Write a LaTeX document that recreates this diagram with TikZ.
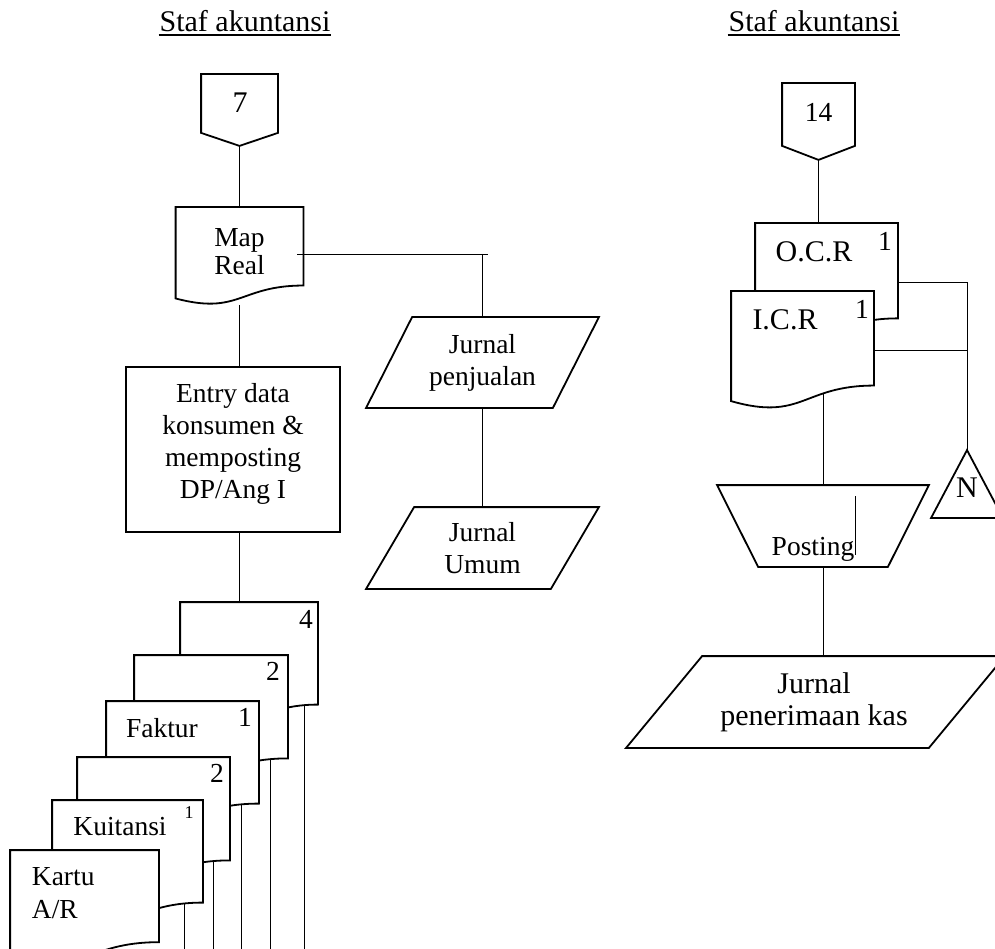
\documentclass[tikz,border=0pt]{standalone}
\usepackage{fontspec}
\setmainfont{Liberation Serif}
\usetikzlibrary{calc}

% Flowchart "document" symbol: flat top, wavy bottom edge
\makeatletter
\newdimen\fdXl \newdimen\fdXr \newdimen\fdXm \newdimen\fdYt
\newdimen\fdYr \newdimen\fdYl \newdimen\fdYc \newdimen\fdH
\pgfdeclareshape{flowdoc}{%
  \inheritsavedanchors[from=rectangle]%
  \inheritanchorborder[from=rectangle]%
  \inheritanchor[from=rectangle]{center}%
  \inheritanchor[from=rectangle]{north}%
  \inheritanchor[from=rectangle]{south}%
  \inheritanchor[from=rectangle]{east}%
  \inheritanchor[from=rectangle]{west}%
  \inheritanchor[from=rectangle]{north east}%
  \inheritanchor[from=rectangle]{north west}%
  \inheritanchor[from=rectangle]{south east}%
  \inheritanchor[from=rectangle]{south west}%
  \inheritanchor[from=rectangle]{text}%
  \inheritanchor[from=rectangle]{base}%
  \inheritanchor[from=rectangle]{mid}%
  \backgroundpath{%
    \southwest \fdXl=\pgf@x \fdYl=\pgf@y
    \northeast \fdXr=\pgf@x \fdYt=\pgf@y
    \fdH=\fdYt \advance\fdH by -\fdYl
    \fdXm=.5\fdXl \advance\fdXm by .5\fdXr
    \fdYr=-0.802\fdH \advance\fdYr by \fdYt
    \fdYc=-1.1075\fdH \advance\fdYc by \fdYt
    \fdYl=-0.934\fdH \advance\fdYl by \fdYt
    \pgfpathmoveto{\pgfqpoint{\fdXl}{\fdYt}}%
    \pgfpathlineto{\pgfqpoint{\fdXr}{\fdYt}}%
    \pgfpathlineto{\pgfqpoint{\fdXr}{\fdYr}}%
    \pgfpathcurveto{\pgfqpoint{\fdXm}{\fdYr}}{\pgfqpoint{\fdXm}{\fdYc}}{\pgfqpoint{\fdXl}{\fdYl}}%
    \pgfpathclose
  }%
}
\makeatother

\pgfdeclarelayer{background}
\pgfsetlayers{background,main}

\tikzset{
  lbl/.style={inner sep=0pt,font=\fontsize{27.5}{32}\selectfont},
  lblbig/.style={inner sep=0pt,font=\fontsize{30}{32}\selectfont},
  lblsmall/.style={inner sep=0pt,font=\fontsize{18}{20}\selectfont},
  doc/.style={shape=flowdoc,draw,fill=white,inner sep=0pt},
  frame/.style={inner sep=0pt,draw=none},
  procbox/.style={draw,inner sep=0pt},
  hairline/.style={line width=0.9pt}
}

\begin{document}
\begin{tikzpicture}[x=1pt,y=-1pt,line width=1.8pt]
\useasboundingbox (0,0) rectangle (995,949);

% ---------- column headings ----------
\node[lblbig,anchor=base] (t1) at (245,32) {Staf akuntansi};
\node[lblbig,anchor=base] (t2) at (814,32) {Staf akuntansi};
\draw ([yshift=-3pt]t1.base west) -- ([yshift=-3pt]t1.base east);
\draw ([yshift=-3pt]t2.base west) -- ([yshift=-3pt]t2.base east);

% ---------- left column ----------
\node[frame,minimum width=75pt,minimum height=70pt] (c7) at (239.5,110) {};
\draw (c7.north west) -- (c7.north east) -- ([yshift=13pt]c7.south east)
  -- (c7.south) -- ([yshift=13pt]c7.south west) -- cycle;
\node[lblbig,anchor=base] (c7t) at (240,113) {7};

\node[doc,minimum width=126pt,minimum height=96pt] (map) at (239.5,256) {};
\node[lbl,anchor=base] (mapa) at (239.5,247) {Map};
\node[lbl,anchor=base] (mapb) at (239.5,275) {Real};

\node[procbox,minimum width=214pt,minimum height=165pt] (entry) at (233,449.5) {};
\node[lbl,align=center,anchor=north] (entryt) at (233,383)
  {Entry data\\konsumen \&\\memposting\\DP/Ang I};

\node[frame,minimum width=231pt,minimum height=89pt] (jp) at (482.5,362.5) {};
\draw (jp.south west) -- ([xshift=46pt]jp.north west) -- (jp.north east)
  -- ([xshift=-46pt]jp.south east) -- cycle;
\node[lbl,align=center] (jpt) at (482.5,362.5) {Jurnal\\penjualan};

\node[frame,minimum width=231pt,minimum height=80pt] (ju) at (482.5,548) {};
\draw (ju.south west) -- ([xshift=48pt]ju.north west) -- (ju.north east)
  -- ([xshift=-48pt]ju.south east) -- cycle;
\node[lbl,align=center] (jut) at (482.5,548) {Jurnal\\Umum};

% stack of documents, back to front
\coordinate (bot) at (0,951);
\node[doc,minimum width=136pt,minimum height=126pt] (doc4) at (249,666) {};
\node[doc,minimum width=152pt,minimum height=127pt] (d2a) at (211,719.5) {};
\node[doc,minimum width=151pt,minimum height=126pt] (fak) at (182.5,765) {};
\node[doc,minimum width=151pt,minimum height=127pt] (d2b) at (153.5,821.5) {};
\node[doc,minimum width=149pt,minimum height=126pt] (kui) at (127.5,864) {};
\node[doc,minimum width=147pt,minimum height=113pt] (kar) at (84.5,907.5) {};

\node[lbl,anchor=base] (n4) at (306,628) {4};
\node[lbl,anchor=base] (n2a) at (273,680) {2};
\node[lbl,anchor=base] (n1a) at (245,726) {1};
\node[lbl,anchor=base] (fakt) at (162,737) {Faktur};
\node[lbl,anchor=base] (n2b) at (217,782) {2};
\node[lblsmall,anchor=base] (n1b) at (189,818) {1};
\node[lbl,anchor=base] (kuit) at (120,835) {Kuitansi};
\node[lbl,anchor=base west] (kara) at (31,885) {Kartu};
\node[lbl,anchor=base west] (karb) at (31,918) {A/R};

% ---------- right column ----------
\node[frame,minimum width=71pt,minimum height=75pt] (c14) at (818.5,121.5) {};
\draw (c14.north west) -- (c14.north east) -- ([yshift=14pt]c14.south east)
  -- (c14.south) -- ([yshift=14pt]c14.south west) -- cycle;
\node[lbl,anchor=base] (c14t) at (818.5,122) {14};

\node[doc,minimum width=141pt,minimum height=117pt] (ocr) at (826.5,282.5) {};
\node[doc,minimum width=141pt,minimum height=116pt] (icr) at (802.5,350) {};
\node[lblbig,anchor=base] (ocrt) at (814,262) {O.C.R};
\node[lbl,anchor=base] (ocr1) at (885,251) {1};
\node[lblbig,anchor=base] (icrt) at (785,329) {I.C.R};
\node[lbl,anchor=base] (icr1) at (862,319) {1};

\node[frame,minimum width=70pt,minimum height=66pt] (ntri) at (967,484) {};
\draw (ntri.north) -- (ntri.south east) -- (ntri.south west) -- cycle;
\node[lblbig,anchor=base] (ntrit) at (967,497) {N};

\node[frame,minimum width=210pt,minimum height=80pt] (pst) at (823,526) {};
\draw (pst.north west) -- (pst.north east) -- ([xshift=-41pt]pst.south east)
  -- ([xshift=41pt]pst.south west) -- cycle;
\node[lbl,anchor=base] (pstt) at (813,555) {Posting};
\draw[hairline] ([shift={(32,-30)}]pst.center) -- ([shift={(32,29)}]pst.center);

\node[frame,minimum width=377pt,minimum height=90pt] (jpk) at (815.5,702) {};
\draw (jpk.south west) -- ([xshift=76pt]jpk.north west) -- (jpk.north east)
  -- ([xshift=-76pt]jpk.south east) -- cycle;
\node[lblbig,align=center] (jpkt) at (814,702) {Jurnal\\penerimaan kas};

% ---------- connectors ----------
\begin{pgfonlayer}{background}
  \draw (c7.south) -- (map.north);
  \draw (map.south) -- (map.south |- entry.north);
  \draw (map.south |- entry.south) -- (map.south |- doc4.north);
  \draw (jp.south) -- (ju.north);
  \draw ([xshift=-14pt]doc4.east) -- ([xshift=-14pt]doc4.east |- bot);
  \draw ([xshift=-18pt]d2a.east) -- ([xshift=-18pt]d2a.east |- bot);
  \draw ([xshift=-18pt]fak.east) -- ([xshift=-18pt]fak.east |- bot);
  \draw ([xshift=-17pt]d2b.east) -- ([xshift=-17pt]d2b.east |- bot);
  \draw ([xshift=-19pt]kui.east) -- ([xshift=-19pt]kui.east |- bot);
  \draw (c14.south) -- (c14.south |- ocr.north);
  \draw (ocr.east) -| (ntri.north);
  \draw (icr.east) -- (icr.east -| ntri.north);
  \draw (pst.north |- icr.center) -- (pst.north);
  \draw (pst.south) -- (pst.south |- jpk.north);
\end{pgfonlayer}
\coordinate (mj) at ([shift={(-6,-2)}]map.east);
\draw (mj) -- ($(jp.north |- mj)+(5,0)$);
\draw (jp.north |- mj) -- (jp.north);
\end{tikzpicture}
\end{document}
